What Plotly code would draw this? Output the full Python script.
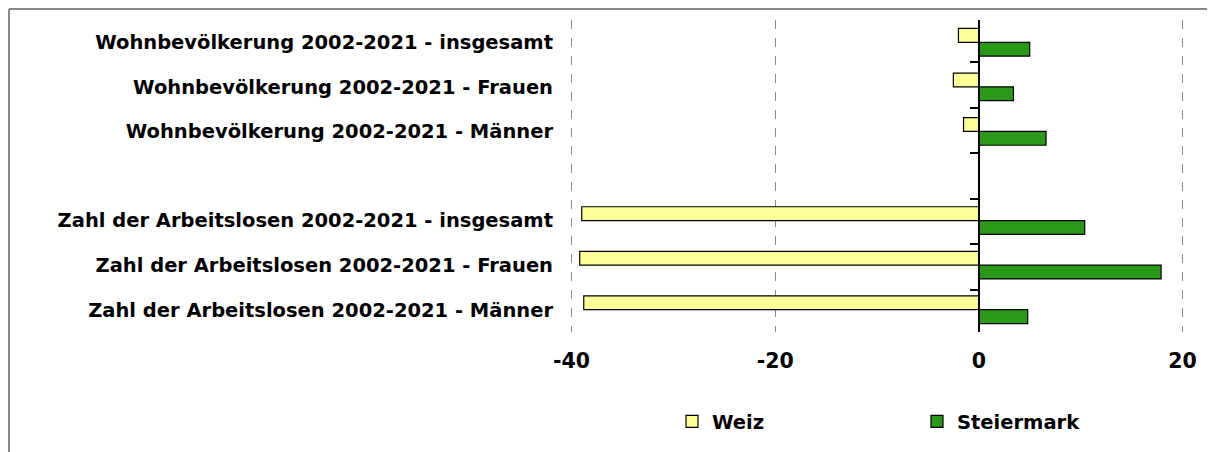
import plotly.graph_objects as go

categories = [
    "Wohnbevölkerung 2002-2021 - insgesamt",
    "Wohnbevölkerung 2002-2021 - Frauen",
    "Wohnbevölkerung 2002-2021 - Männer",
    " ",
    "Zahl der Arbeitslosen 2002-2021 - insgesamt",
    "Zahl der Arbeitslosen 2002-2021 - Frauen",
    "Zahl der Arbeitslosen 2002-2021 - Männer",
]
weiz = [-2.0, -2.5, -1.5, None, -39.0, -39.2, -38.8]
steiermark = [5.0, 3.4, 6.6, None, 10.4, 17.9, 4.8]
x_ticks = [-40, -20, 0, 20]
pad = 0.25
x_range = [x_ticks[0] - pad, x_ticks[-1] + pad]

FONT = "DejaVu Sans, Verdana, sans-serif"

# page body has an 8px margin; figure is sized to fit the 1215x452 window
W, H = 1207, 444
OFF = 8
ppu = (1182 - 572) / (x_ticks[-1] - x_ticks[0])
L = round(572 - OFF - pad * ppu)
R = round(1182 - OFF + pad * ppu)
T, B = 20 - OFF, 332 - OFF
PW, PH = R - L, B - T

fig = go.Figure()
fig.add_trace(go.Bar(
    name="Weiz", y=categories, x=weiz, orientation="h",
    marker=dict(color="#FFFF99", line=dict(color="#000000", width=1.2)),
))
fig.add_trace(go.Bar(
    name="Steiermark", y=categories, x=steiermark, orientation="h",
    marker=dict(color="#2A9818", line=dict(color="#000000", width=1.2)),
))
# invisible helper trace to carry the zero-position category axis
fig.add_trace(go.Scatter(
    x=[0] * len(categories), y=categories, yaxis="y2", mode="markers",
    marker=dict(opacity=0), showlegend=False, hoverinfo="skip",
))

zero_pos = (0 - x_range[0]) / (x_range[1] - x_range[0])

bx = (1 - L) / PW
by = 1 + (T - 1) / PH

fig.update_layout(
    width=W, height=H,
    margin=dict(l=L, r=W - R, t=T, b=H - B, autoexpand=False),
    paper_bgcolor="white", plot_bgcolor="white",
    barmode="group", bargap=0.38, bargroupgap=0,
    font=dict(family=FONT, size=19, color="#000000"),
    xaxis=dict(
        range=x_range, tickvals=x_ticks, ticktext=[str(v) for v in x_ticks],
        showgrid=True, gridcolor="#8c8c8c", griddash="dash", gridwidth=1,
        zeroline=False, showline=False, ticks="",
        ticklabelstandoff=14,
        tickfont=dict(family=FONT, size=20.5, weight="bold"),
    ),
    yaxis=dict(
        type="category", categoryarray=categories, autorange="reversed",
        showgrid=False, zeroline=False, showline=False, ticks="",
        ticklabelstandoff=15,
        tickfont=dict(family=FONT, size=19.5, weight="bold"),
    ),
    yaxis2=dict(
        type="category", categoryarray=categories, autorange="reversed",
        overlaying="y", anchor="free", position=zero_pos, side="left",
        showline=True, linecolor="#000000", linewidth=1.5,
        ticks="outside", tickson="boundaries", ticklen=8, tickcolor="#000000",
        tickwidth=1.5, showticklabels=False, showgrid=False, zeroline=False,
    ),
    legend=dict(
        orientation="h", x=(682 - OFF - 10 - L) / PW, y=-0.225,
        xanchor="left", yanchor="top",
        font=dict(family=FONT, size=19.5, weight="bold"),
        entrywidth=200, entrywidthmode="pixels",
        itemwidth=30, bgcolor="rgba(0,0,0,0)",
    ),
    shapes=[
        dict(type="line", xref="paper", yref="paper",
             x0=bx, x1=bx, y0=by, y1=-(H - B) / PH,
             line=dict(color="#888888", width=2)),
        dict(type="line", xref="paper", yref="paper",
             x0=bx, x1=(W - L) / PW, y0=by, y1=by,
             line=dict(color="#888888", width=2)),
    ],
)

fig.write_html("out.html")
